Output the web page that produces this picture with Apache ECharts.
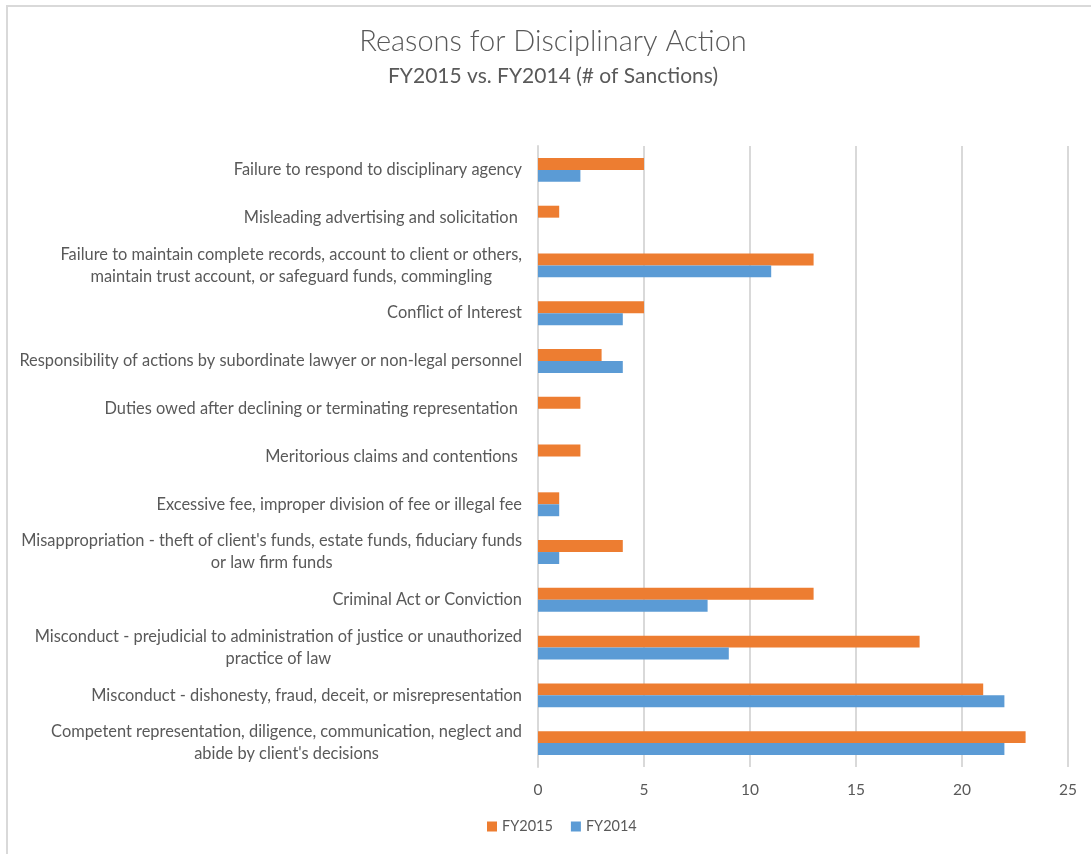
<!DOCTYPE html>
<html>
<head>
<meta charset="utf-8">
<script src="https://cdn.jsdelivr.net/npm/echarts@6/dist/echarts.min.js"></script>
<style>
html,body{margin:0;padding:0;background:#fff;}
#main{width:1091px;height:854px;}
</style>
</head>
<body>
<div id="main"></div>
<script>
const categories = [
  "Failure to respond to disciplinary agency",
  "Misleading advertising and solicitation ",
  "Failure to maintain complete records, account to client or others,\nmaintain trust account, or safeguard funds, commingling",
  "Conflict of Interest",
  "Responsibility of actions by subordinate lawyer or non-legal personnel",
  "Duties owed after declining or terminating representation ",
  "Meritorious claims and contentions ",
  "Excessive fee, improper division of fee or illegal fee",
  "Misappropriation - theft of client's funds, estate funds, fiduciary funds\nor law firm funds",
  "Criminal Act or Conviction",
  "Misconduct - prejudicial to administration of justice or unauthorized\npractice of law",
  "Misconduct - dishonesty, fraud, deceit, or misrepresentation",
  "Competent representation, diligence, communication, neglect and\nabide by client's decisions"
];
const fy2015 = [5, 1, 13, 5, 3, 2, 2, 1, 4, 13, 18, 21, 23];
const fy2014 = [2, 0, 11, 4, 4, 0, 0, 1, 1, 8, 9, 22, 22];
const seriesNames = ["FY2015", "FY2014"];

const FONT = "Lato";
const chart = echarts.init(document.getElementById('main'), null, {renderer: 'canvas'});
chart.setOption({
  backgroundColor: '#ffffff',
  animation: false,
  graphic: [{
    type: 'rect',
    shape: {x: 7, y: 6, width: 1200, height: 1000},
    style: {fill: 'none', stroke: '#D9D9D9', lineWidth: 2},
    silent: true, z: -1
  }],
  title: {
    text: 'Reasons for Disciplinary Action',
    subtext: 'FY2015 vs. FY2014 (# of Sanctions)',
    left: 548, textAlign: 'center', top: 22,
    itemGap: 10,
    textStyle: {fontFamily: FONT, fontWeight: 300, fontSize: 29, color: '#595959'},
    subtextStyle: {fontFamily: FONT, fontSize: 21, color: '#595959'}
  },
  legend: {
    bottom: 15, left: 482,
    itemWidth: 10, itemHeight: 10, itemGap: 18,
    icon: 'rect',
    textStyle: {fontFamily: FONT, fontSize: 14.5, color: '#595959'},
    data: seriesNames
  },
  grid: {left: 538, right: 23, top: 146, bottom: 87, containLabel: false},
  xAxis: {
    type: 'value', min: 0, max: 25, interval: 5,
    axisLine: {show: false}, axisTick: {show: false},
    splitLine: {lineStyle: {color: '#D9D9D9', width: 2}},
    axisLabel: {fontFamily: FONT, fontSize: 15.5, color: '#595959', margin: 15}
  },
  yAxis: {
    type: 'category', inverse: true, data: categories,
    axisLine: {show: true, lineStyle: {color: '#D9D9D9', width: 2}},
    axisTick: {show: false},
    axisLabel: {
      margin: 16,
      formatter: function (v) {
        return v.split('\n').map(function (l) { return '{c|' + l + '}'; }).join('\n');
      },
      rich: {c: {align: 'center', fontFamily: FONT, fontSize: 16.4, color: '#595959', lineHeight: 22}}
    }
  },
  series: [
    {name: seriesNames[0], type: 'bar', data: fy2015, barGap: '0%', barCategoryGap: '50%',
     itemStyle: {color: '#ED7D31'}},
    {name: seriesNames[1], type: 'bar', data: fy2014, barGap: '0%', barCategoryGap: '50%',
     itemStyle: {color: '#5B9BD5'}}
  ]
});
</script>
</body>
</html>
